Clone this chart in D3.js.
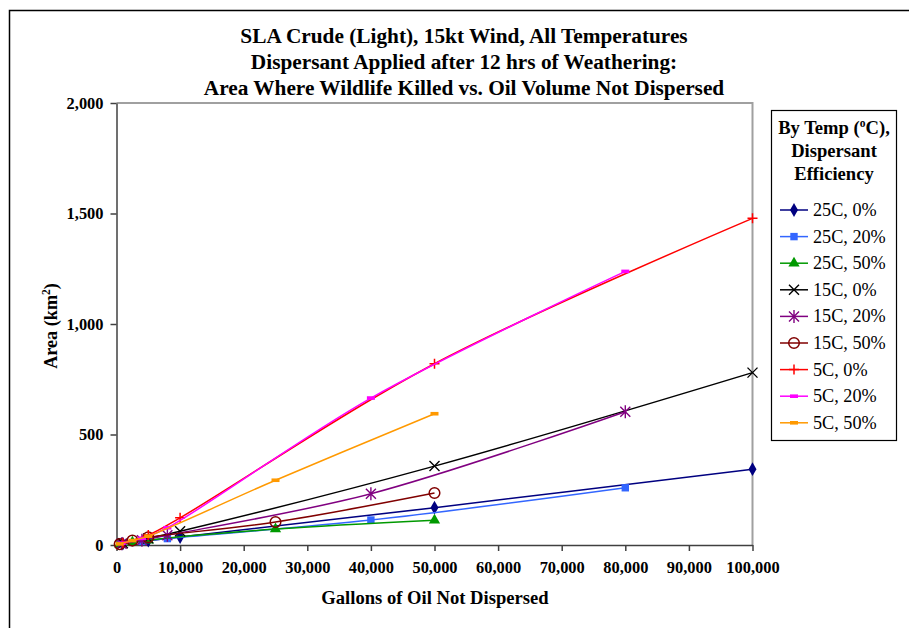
<!DOCTYPE html>
<html><head><meta charset="utf-8">
<script src="https://cdn.jsdelivr.net/npm/d3@7"></script>
<style>body{margin:0;background:#fff}svg{display:block;font-family:"Liberation Serif","Times New Roman",serif}</style>
</head><body><svg id="c" width="909" height="628"></svg>
<script>
const titleLines = ["SLA Crude (Light), 15kt Wind, All Temperatures","Dispersant Applied after 12 hrs of Weathering:","Area Where Wildlife Killed vs. Oil Volume Not Dispersed"];
const xTicks = [0,10000,20000,30000,40000,50000,60000,70000,80000,90000,100000];
const yTicks = [0,500,1000,1500,2000];
const gallons0 = [1000,5000,10000,50000,100000];
const gallons20 = [800,4000,8000,40000,80000];
const gallons50 = [500,2500,5000,25000,50000];
const seriesNames = ["25C, 0%","25C, 20%","25C, 50%","15C, 0%","15C, 20%","15C, 50%","5C, 0%","5C, 20%","5C, 50%"];
const area25C0 = [6,20,36,169,343];
const area25C20 = [5,16,29,113,259];
const area25C50 = [3,12,22,72,112];
const area15C0 = [8,30,62,357,780];
const area15C20 = [6,22,44,232,603];
const area15C50 = [4,20,35,104,235];
const area5C0 = [10,45,123,820,1478];
const area5C20 = [8,30,78,665,1238];
const area5C50 = [5,20,40,293,594];

const seriesX = [gallons0,gallons20,gallons50,gallons0,gallons20,gallons50,gallons0,gallons20,gallons50];
const seriesY = [area25C0,area25C20,area25C50,area15C0,area15C20,area15C50,area5C0,area5C20,area5C50];
const colors = ["#000080","#3366FF","#009900","#000000","#800080","#800000","#FF0000","#FF00FF","#FF9900"];
const shapes = ["diamond","square","triangle","x","star","circle","plus","dash","dash"];

const svg = d3.select("#c");
svg.append("rect").attr("width",909).attr("height",628).attr("fill","#fff");
svg.append("path").attr("d","M9.5,628V10.5H909").attr("fill","none").attr("stroke","#000").attr("stroke-width",1.5);

const L=116.5, R=752.5, T=103, B=545;
const x = d3.scaleLinear().domain([0,100000]).range([L,R]);
const y = d3.scaleLinear().domain([0,2000]).range([B,T]);

svg.append("path").attr("d",`M${L},${T}H${R}V${B}`).attr("fill","none").attr("stroke","#a0a0a0").attr("stroke-width",2);

const fmt = d3.format(",");
const ya = svg.append("g").attr("transform",`translate(${L},0)`)
  .call(d3.axisLeft(y).tickValues(yTicks).tickFormat(fmt).tickSize(6).tickPadding(7).tickSizeOuter(0));
const xa = svg.append("g").attr("transform",`translate(0,${B})`)
  .call(d3.axisBottom(x).tickValues(xTicks).tickFormat(fmt).tickSize(6).tickPadding(10).tickSizeOuter(0));
[ya,xa].forEach(g=>{
  g.selectAll("path,line").attr("stroke","#404040").attr("stroke-width",1.5);
  g.selectAll("text").attr("font-family","Liberation Serif").attr("font-weight","bold").attr("font-size",16.4).attr("fill","#000");
});

svg.append("g").selectAll("text").data(titleLines).join("text")
  .attr("x",464).attr("y",(d,i)=>43+i*26).attr("text-anchor","middle")
  .attr("font-weight","bold").attr("font-size",21.3).text(d=>d);
svg.append("text").attr("x",435).attr("y",604).attr("text-anchor","middle")
  .attr("font-weight","bold").attr("font-size",18.6).text("Gallons of Oil Not Dispersed");
const yt = svg.append("text").attr("transform","translate(57,326) rotate(-90)").attr("text-anchor","middle")
  .attr("font-weight","bold").attr("font-size",18.2);
yt.append("tspan").text("Area (km");
yt.append("tspan").attr("dy",-7).attr("font-size",11.5).text("2");
yt.append("tspan").attr("dy",7).text(")");

function marker(g, shape, color){
  if(shape==="diamond") g.append("path").attr("d",d3.symbol(d3.symbolDiamond,55)()).attr("fill",color);
  else if(shape==="square") g.append("path").attr("d",d3.symbol(d3.symbolSquare,55)()).attr("fill",color);
  else if(shape==="triangle") g.append("path").attr("d",d3.symbol(d3.symbolTriangle,55)()).attr("fill",color);
  else if(shape==="circle") g.append("circle").attr("r",5.3).attr("fill","none").attr("stroke",color).attr("stroke-width",1.5);
  else if(shape==="x") g.append("path").attr("d","M-5,-5L5,5M-5,5L5,-5").attr("stroke",color).attr("stroke-width",1.4);
  else if(shape==="star") g.append("path").attr("d","M-5,-5L5,5M-5,5L5,-5M0,-6.5V6.5").attr("stroke",color).attr("stroke-width",1.4);
  else if(shape==="plus") g.append("path").attr("d","M-5,0H5M0,-5V5").attr("stroke",color).attr("stroke-width",1.5);
  else if(shape==="dash") g.append("rect").attr("x",-4).attr("y",-1.8).attr("width",8).attr("height",3.6).attr("fill",color);
}

const line = d3.line().curve(d3.curveCatmullRom.alpha(0.5)).x(d=>x(d[0])).y(d=>y(d[1]));
seriesNames.forEach((name,i)=>{
  const pts = seriesX[i].map((v,j)=>[v,seriesY[i][j]]);
  const g = svg.append("g");
  g.append("path").attr("d",line(pts)).attr("fill","none").attr("stroke",colors[i]).attr("stroke-width",1.5);
  pts.forEach(p=>{ marker(g.append("g").attr("transform",`translate(${x(p[0])},${y(p[1])})`), shapes[i], colors[i]); });
});

const lg = svg.append("g");
lg.append("rect").attr("x",771.5).attr("y",110.5).attr("width",125).attr("height",330).attr("fill","#fff").attr("stroke","#000").attr("stroke-width",1.2);
const lt1 = lg.append("text").attr("x",834).attr("y",134).attr("text-anchor","middle").attr("font-weight","bold").attr("font-size",18.6);
lt1.append("tspan").text("By Temp (");
lt1.append("tspan").attr("dy",-7).attr("font-size",11.5).text("o");
lt1.append("tspan").attr("dy",7).text("C),");
lg.append("text").attr("x",834).attr("y",157).attr("text-anchor","middle").attr("font-weight","bold").attr("font-size",18.6).text("Dispersant");
lg.append("text").attr("x",834).attr("y",180).attr("text-anchor","middle").attr("font-weight","bold").attr("font-size",18.6).text("Efficiency");
seriesNames.forEach((name,i)=>{
  const cy = 210 + i*26.6;
  lg.append("line").attr("x1",780).attr("x2",808).attr("y1",cy).attr("y2",cy).attr("stroke",colors[i]).attr("stroke-width",1.5);
  marker(lg.append("g").attr("transform",`translate(794,${cy})`), shapes[i], colors[i]);
  lg.append("text").attr("x",813).attr("y",cy+6).attr("font-size",18.2).text(name);
});
</script></body></html>
